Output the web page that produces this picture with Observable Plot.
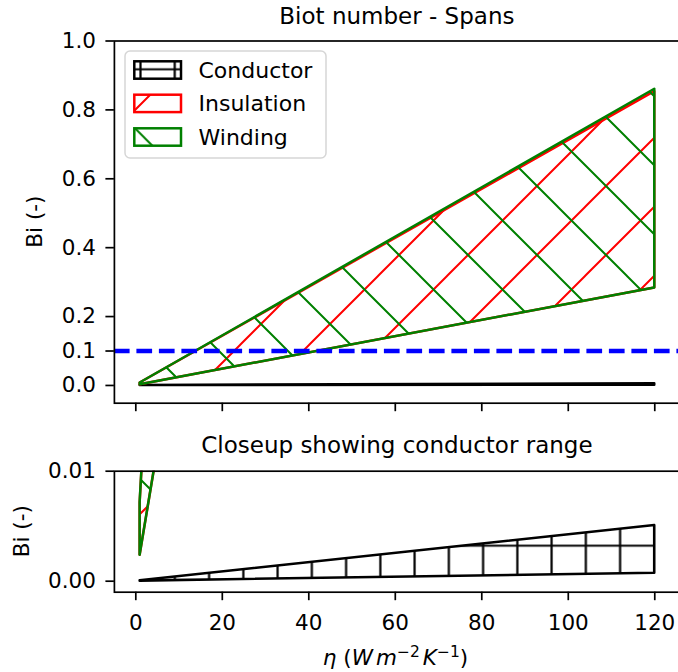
<!DOCTYPE html>
<html><head><meta charset="utf-8">
<script src="https://cdn.jsdelivr.net/npm/d3@7"></script>
<script src="https://cdn.jsdelivr.net/npm/@observablehq/plot@0.6"></script>
<style>
html,body{margin:0;padding:0;background:#fff;overflow:hidden;}
#wrap{position:relative;width:678px;height:672px;overflow:hidden;background:#fff;font-family:"DejaVu Sans";}
#wrap svg{position:absolute;left:0;max-width:none !important;}
</style></head><body><div id="wrap"></div>
<script>
// ---- data ----
const eta = [1, 120];
const conductorLow = [0.000006, 0.00073];
const conductorHigh = [0.000042, 0.00506];
const insulationLow = [0.00236, 0.283];
const insulationHigh = [0.0071, 0.853];
const windingLow = [0.00236, 0.283];
const windingHigh = [0.00717, 0.86];
const seriesNames = ["Conductor", "Insulation", "Winding"];
const seriesColors = ["black", "red", "green"];
const xTicks = [0, 20, 40, 60, 80, 100, 120];
const yTicksTop = [0, 0.1, 0.2, 0.4, 0.6, 0.8, 1.0];
const yTicksBottom = [0, 0.01];
const threshold = 0.1;
const topTitle = "Biot number - Spans";
const bottomTitle = "Closeup showing conductor range";
const yLabel = "Bi (-)";

const lows = [conductorLow, insulationLow, windingLow];
const highs = [conductorHigh, insulationHigh, windingHigh];
const data = seriesNames.map((s, j) => eta.map((x, i) => ({series: s, eta: x, lo: lows[j][i], hi: highs[j][i]})));

const NS = "http://www.w3.org/2000/svg";
const wrap = document.getElementById("wrap");
const FONT = "DejaVu Sans";
const P = 69, S = 34.25;
const mod = (a, m) => ((a % m) + m) % m;

function patterns(prefix, T, ph) {
  const fx = mod(ph.fwd - T, P), bx = mod(ph.back + T, P);
  const px = mod(ph.vx - S / 2, S), py = mod(ph.hy - T - S / 2, S);
  return `
  <pattern id="${prefix}-Insulation" patternUnits="userSpaceOnUse" x="${fx}" y="0" width="${P}" height="${P}">
    <path d="M0,${P}L${P},0M${-P/4},${P/4}L${P/4},${-P/4}M${3*P/4},${5*P/4}L${5*P/4},${3*P/4}" stroke="red" stroke-width="2" fill="none"/>
  </pattern>
  <pattern id="${prefix}-Winding" patternUnits="userSpaceOnUse" x="${bx}" y="0" width="${P}" height="${P}">
    <path d="M0,0L${P},${P}M${3*P/4},${-P/4}L${5*P/4},${P/4}M${-P/4},${3*P/4}L${P/4},${5*P/4}" stroke="green" stroke-width="2" fill="none"/>
  </pattern>
  <pattern id="${prefix}-Conductor" patternUnits="userSpaceOnUse" x="${px}" y="${py}" width="${S}" height="${S}">
    <path d="M${S/2},0V${S}M0,${S/2}H${S}" stroke="black" stroke-width="2.2" fill="none"/>
  </pattern>`;
}
function addDefs(svg, html) {
  const defs = document.createElementNS(NS, "defs");
  defs.innerHTML = html;
  svg.insertBefore(defs, svg.firstChild);
}
const phases = {fwd: 33, back: 6, vx: 3.6, hy: 545.7};

function areaMarks(prefix) {
  return seriesNames.map((s, j) => Plot.areaY(data[j], {
    x: "eta", y1: "lo", y2: "hi",
    fill: `url(#${prefix}-${s})`, stroke: seriesColors[j], strokeWidth: 2.5,
    strokeLinejoin: "round", clip: true
  }));
}

// ---- top panel ----
const topSvg = Plot.plot({
  width: 690, height: 420,
  marginLeft: 113.9, marginRight: 10, marginTop: 40.5, marginBottom: 17.3,
  x: {domain: [-4.95, 125.95]},
  y: {domain: [-0.0515, 1.0]},
  style: {fontFamily: FONT, fontSize: "21.5px", background: "none", color: "black", overflow: "visible", maxWidth: "none"},
  marks: [
    ...areaMarks("t"),
    Plot.ruleY([threshold], {stroke: "blue", strokeWidth: 4.5, strokeDasharray: "15.7,6.8"}),
    Plot.frame({stroke: "black", strokeWidth: 1.7}),
    Plot.axisY({ticks: yTicksTop, tickFormat: d => d.toFixed(1), tickSize: 8.5, tickPadding: 10, strokeWidth: 1.7, label: null, fontSize: 21.5}),
    Plot.axisX({ticks: xTicks, tickFormat: () => "", tickSize: 8.5, strokeWidth: 1.7, label: null})
  ]
});
addDefs(topSvg, patterns("t", 0, phases));
topSvg.style.top = "0px";
topSvg.style.maxWidth = "none";
topSvg.style.width = "690px";
topSvg.style.height = "420px";
wrap.appendChild(topSvg);

// ---- bottom panel ----
const TB = 420;
const botSvg = Plot.plot({
  width: 690, height: 252,
  marginLeft: 113.9, marginRight: 10, marginTop: 50.7, marginBottom: 80.3,
  x: {domain: [-4.95, 125.95]},
  y: {domain: [-0.001, 0.01]},
  style: {fontFamily: FONT, fontSize: "21.5px", background: "none", color: "black", overflow: "visible", maxWidth: "none"},
  marks: [
    ...areaMarks("b"),
    Plot.frame({stroke: "black", strokeWidth: 1.7}),
    Plot.axisY({ticks: yTicksBottom, tickFormat: d => d.toFixed(2), tickSize: 8.5, tickPadding: 10, strokeWidth: 1.7, label: null, fontSize: 21.5}),
    Plot.axisX({ticks: xTicks, tickFormat: d => String(d), tickSize: 8.5, tickPadding: 14.5, strokeWidth: 1.7, label: null, fontSize: 21.5})
  ]
});
addDefs(botSvg, patterns("b", TB, phases));
botSvg.style.top = TB + "px";
botSvg.style.maxWidth = "none";
botSvg.style.width = "690px";
botSvg.style.height = "252px";
wrap.appendChild(botSvg);

// ---- overlay: titles, labels, legend ----
const ov = document.createElementNS(NS, "svg");
ov.setAttribute("width", 678); ov.setAttribute("height", 672);
ov.style.top = "0px";
ov.setAttribute("font-family", FONT);
let html = `<defs>${patterns("lg", 0, {fwd: 38, back: 6.7, vx: 3.5, hy: 69.3})}</defs>`;
html += `<text x="396.9" y="24" text-anchor="middle" font-size="23">${topTitle}</text>`;
html += `<text x="396.9" y="452.6" text-anchor="middle" font-size="23">${bottomTitle}</text>`;
html += `<text transform="translate(42.3,221.6) rotate(-90)" text-anchor="middle" font-size="21.5">${yLabel}</text>`;
html += `<text transform="translate(29.3,531.2) rotate(-90)" text-anchor="middle" font-size="21.5">${yLabel}</text>`;
html += `<text x="395.5" y="665" text-anchor="middle" font-size="21.5"><tspan font-style="italic">η</tspan> (<tspan font-style="italic">W</tspan><tspan dx="3" font-style="italic">m</tspan><tspan dy="-8" font-size="15.5">−2</tspan><tspan dy="8" dx="3" font-style="italic">K</tspan><tspan dy="-8" font-size="15.5">−1</tspan><tspan dy="8">)</tspan></text>`;
// legend
html += `<rect x="125" y="51" width="201" height="107" rx="5" fill="white" fill-opacity="0.8" stroke="#d6d6d6" stroke-width="1.5"/>`;
const rowY = [70, 103.4, 137];
seriesNames.forEach((s, j) => {
  html += `<rect x="134.3" y="${rowY[j] - 8.7}" width="46.7" height="17.4" fill="url(#lg-${s})" stroke="${seriesColors[j]}" stroke-width="2.5"/>`;
  html += `<text x="198.5" y="${rowY[j] + 7.9}" font-size="22">${s}</text>`;
});
ov.innerHTML = html;
wrap.appendChild(ov);
</script></body></html>
